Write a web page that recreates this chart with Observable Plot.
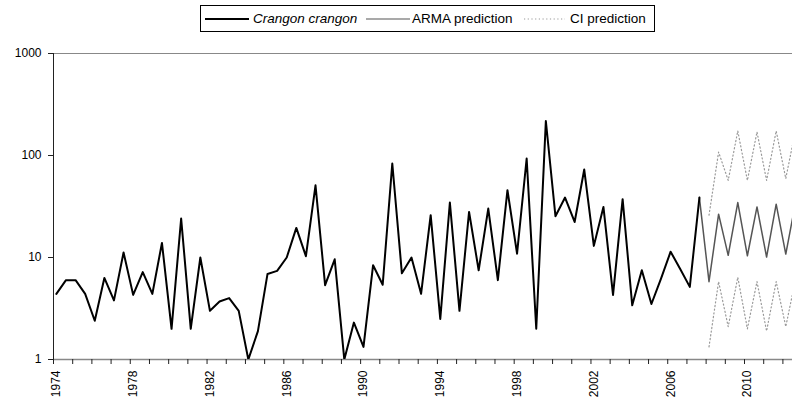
<!DOCTYPE html>
<html>
<head>
<meta charset="utf-8">
<script src="https://cdn.jsdelivr.net/npm/d3@7"></script>
<script src="https://cdn.jsdelivr.net/npm/@observablehq/plot@0.6"></script>
<style>
  body { margin: 0; background: #fff; font-family: "Liberation Sans", Arial, sans-serif; }
  #wrap { position: relative; width: 792px; height: 400px; }
  #legend { position: absolute; left: 200px; top: 5px; width: 453px; height: 25px; border: 1px solid #000; background: #fff; font-size: 13.5px; color: #000; }
  #legend .sw { position: absolute; top: 0; height: 25px; }
  #legend .lab { position: absolute; top: 5px; line-height: 15px; white-space: nowrap; }
</style>
</head>
<body>
<div id="wrap">
  <div id="legend">
    <svg class="sw" style="left:4px" width="44" height="25"><line x1="0" x2="44" y1="13" y2="13" stroke="#000" stroke-width="2"/></svg>
    <span class="lab" style="left:52px;font-style:italic">Crangon crangon</span>
    <svg class="sw" style="left:165px" width="44" height="25"><line x1="0" x2="44" y1="13" y2="13" stroke="#555" stroke-width="1.2"/></svg>
    <span class="lab" style="left:211px">ARMA prediction</span>
    <svg class="sw" style="left:323px" width="41" height="25"><line x1="0" x2="41" y1="13" y2="13" stroke="#999" stroke-width="1.2" stroke-dasharray="1.2,2.5"/></svg>
    <span class="lab" style="left:369px">CI prediction</span>
  </div>
</div>
<script>
// Semiannual observations of Crangon crangon, starting first half of 1974
const startYear = 1974;
const observed = [
  4.4, 6.0, 6.0, 4.4, 2.4, 6.3, 3.8, 11.2, 4.3, 7.2,
  4.4, 13.9, 2.0, 24.1, 2.0, 10.0, 3.0, 3.7, 4.0, 3.0,
  1.0, 1.9, 6.9, 7.4, 10.0, 19.5, 10.3, 51, 5.35, 9.6,
  1.0, 2.3, 1.33, 8.4, 5.4, 83.5, 7.0, 10.0, 4.4, 26,
  2.5, 34.6, 3.0, 28, 7.5, 30.2, 6.0, 45.7, 10.9, 93.5,
  2.0, 218, 25.4, 38.7, 22.3, 72.9, 13.0, 31.3, 4.3, 37.3,
  3.4, 7.5, 3.5, 6.2, 11.4, 7.7, 5.15, 38.7
];
// ARMA prediction starts at the last observation
const armaPrediction = [38.7, 5.8, 26.6, 10.5, 34.6, 10.4, 31.3, 10.1, 33.3, 10.8, 34];
// Confidence interval of the prediction (starts one step after last observation)
const ciUpper = [26, 108, 57, 174, 57, 170, 57, 174, 59.5, 175];
const ciLower = [1.33, 5.8, 2.1, 6.4, 2.0, 5.8, 1.9, 5.8, 2.1, 6.0];
const yTicks = [1, 10, 100, 1000];
const labelYears = [1974, 1978, 1982, 1986, 1990, 1994, 1998, 2002, 2006, 2010];
const tickYears = d3.range(1974, 2013);

const t = i => startYear + 0.15 + 0.5 * i;
const obsData = observed.map((v, i) => ({t: t(i), v}));
const armaStart = observed.length - 1;
const armaData = armaPrediction.map((v, i) => ({t: t(armaStart + i), v}));
const upData = ciUpper.map((v, i) => ({t: t(armaStart + 1 + i), v}));
const loData = ciLower.map((v, i) => ({t: t(armaStart + 1 + i), v}));

const chart = Plot.plot({
  width: 792,
  height: 400,
  marginTop: 53,
  marginBottom: 41,
  marginLeft: 53,
  marginRight: 0,
  style: {fontFamily: "'Liberation Sans', Arial, sans-serif", fontSize: "12px", background: "white", color: "black"},
  x: {domain: [1974, 2012.5]},
  y: {type: "log", domain: [1, 1000]},
  marks: [
    Plot.ruleY([1000], {stroke: "#888", strokeWidth: 1}),
    Plot.ruleY([1], {stroke: "#888", strokeWidth: 1.5}),
    Plot.ruleX([1974], {stroke: "#222", strokeWidth: 1}),
    Plot.axisY({ticks: yTicks, tickSize: 5, tickPadding: 7, tickFormat: d => String(d), label: null, stroke: "#222"}),
    Plot.axisX({ticks: tickYears, tickSize: 5, tickFormat: () => "", label: null, stroke: "#222"}),
    Plot.axisX({ticks: labelYears, tickSize: 0, tickPadding: 11, tickRotate: -90, tickFormat: d => String(d), label: null, dx: 3}),
    Plot.line(upData, {x: "t", y: "v", stroke: "#999", strokeWidth: 1.2, strokeDasharray: "1.2,2.5", clip: true}),
    Plot.line(loData, {x: "t", y: "v", stroke: "#999", strokeWidth: 1.2, strokeDasharray: "1.2,2.5", clip: true}),
    Plot.line(armaData, {x: "t", y: "v", stroke: "#555", strokeWidth: 1.5, clip: true}),
    Plot.line(obsData, {x: "t", y: "v", stroke: "#000", strokeWidth: 2, clip: true})
  ]
});
document.getElementById("wrap").prepend(chart);
</script>
</body>
</html>
